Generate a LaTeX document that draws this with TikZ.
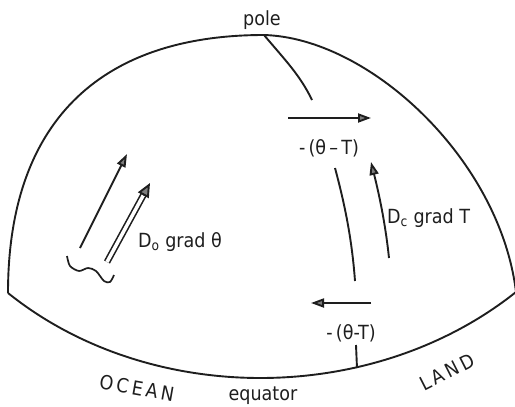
\documentclass[tikz,border=0pt]{standalone}
\usepackage{fontspec}
\setmainfont{DejaVu Sans Condensed}
\usetikzlibrary{arrows.meta,calc,positioning}
\definecolor{ink}{RGB}{30,30,30}
\definecolor{tipgray}{RGB}{125,125,125}
\tikzset{
  rim/.style={ink,line width=1.9pt},
  flux/.style={ink,line width=1.9pt,-{Triangle[length=13pt,width=9pt,fill=tipgray]}},
  lbl/.style={font=\fontsize{19.5}{22}\selectfont,inner sep=0pt,text=ink}
}

\begin{document}
\begin{tikzpicture}[x=1pt,y=-1pt]
  \useasboundingbox (0,0) rectangle (515,407);
  \coordinate (w) at (8,293);
  \coordinate (n) at (264,35);
  \coordinate (e) at (516,292);
  \draw[rim] (w) .. controls (8,125) and (97,35) .. (n) .. controls (370,38) and (500,160) .. (e);
  \draw[rim] (w) .. controls (150,407) and (373,406) .. (e);
  \draw[rim] (n) .. controls (285,60) and (300,75) .. (312,100);
  \draw[rim] (335,168) .. controls (345,205) and (352,240) .. (355,281);
  \draw[rim] (356,345) -- (357,368);
  \node[lbl,anchor=base] (pole) at (262,25) {pole};
  \node[lbl,anchor=base] (eq) at (263,400) {equator};
  \node[lbl,rotate=-10] (ocean) at (137,388) {O\,C\,E\,A\,N};
  \node[lbl,rotate=27] (land) at (447,372) {L\,A\,N\,D};
  \coordinate (ua) at (288,118);
  \coordinate (ub) at (371,118);
  \draw[flux] (ua) -- (ub);
  \node[lbl,anchor=base] (up) at (329,154) {-\,(θ\,–\,T)};
  \coordinate (la) at (371,303);
  \coordinate (lb) at (311,303);
  \draw[flux] (la) -- (lb);
  \node[lbl,anchor=base] (lo) at (351,339) {-\,(θ-T)};
  \coordinate (ca) at (389,258);
  \coordinate (cb) at (371,162);
  \draw[flux] (ca) .. controls (385,220) and (378,190) .. (cb);
  \node[lbl,anchor=base west] (dc) at (387,223) {D\textsubscript{c} grad T};
  \coordinate (sa) at (80,248);
  \coordinate (sb) at (127,154);
  \draw[flux] (sa) -- (sb);
  \coordinate (da) at (107,262);
  \coordinate (db) at (150,183);
  \draw[ink,line width=1.6pt,double=white,double distance=3.5pt,shorten >=11pt] (da) -- (db);
  \draw[flux,-{Triangle[length=14pt,width=12pt,fill=tipgray]}] ($(db)!14pt!(da)$) -- (db);
  \node[lbl,anchor=base west] (do) at (138,247) {D\textsubscript{o} grad θ};
  \draw[ink,line width=1.7pt] plot[smooth] coordinates {(67,256) (70,266) (79,271) (88,268) (96,271) (104,281) (110,282) (114,275)};
\end{tikzpicture}
\end{document}
